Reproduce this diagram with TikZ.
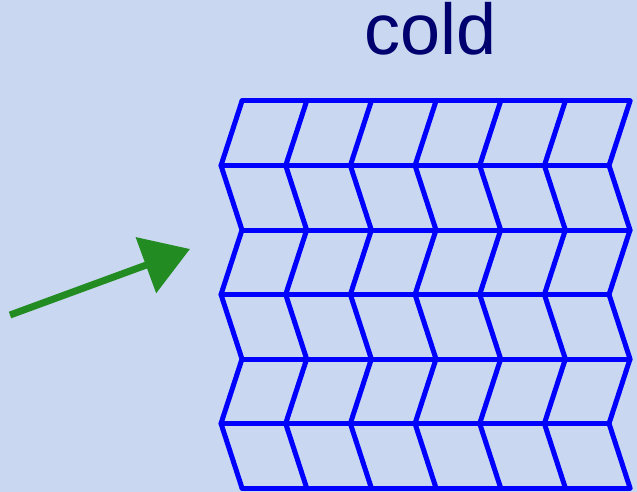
\documentclass[tikz,border=0pt]{standalone}
\usepackage{fontspec}
\setmainfont{Liberation Sans}
\usetikzlibrary{arrows.meta}
\definecolor{mybg}{RGB}{201,216,240}
\definecolor{mynavy}{RGB}{0,0,110}
\definecolor{mygreen}{RGB}{34,139,34}
\definecolor{myblue}{RGB}{0,0,255}

\begin{document}
\begin{tikzpicture}[x=1pt,y=-1pt,
  gridline/.style={draw=myblue,line width=5pt,line cap=round,line join=round},
  flow/.style={draw=mygreen,line width=7pt,-{Triangle[length=47pt,width=58pt]}}]
  \fill[mybg] (0,0) rectangle (637,492);
  \useasboundingbox (0,0) rectangle (637,492);
  \node[font=\fontsize{72}{80}\selectfont,text=mynavy,anchor=base,inner sep=0pt]
    (title) at (430.5,55) {cold};
  % horizontal rows
  \foreach \r in {0,...,6}
    \draw[gridline] ({242-21*mod(\r,2)},{101+64.5*\r}) -- ({630-21*mod(\r,2)},{101+64.5*\r});
  % zigzag columns
  \foreach \c in {0,...,6}
    \draw[gridline] ({242+64.67*\c},101)
      \foreach \r in {1,...,6} { -- ({242+64.67*\c-21*mod(\r,2)},{101+64.5*\r}) };
  \coordinate (src) at (10,315);
  \coordinate (tip) at (190,249);
  \draw[flow] (src) -- (tip);
\end{tikzpicture}
\end{document}
